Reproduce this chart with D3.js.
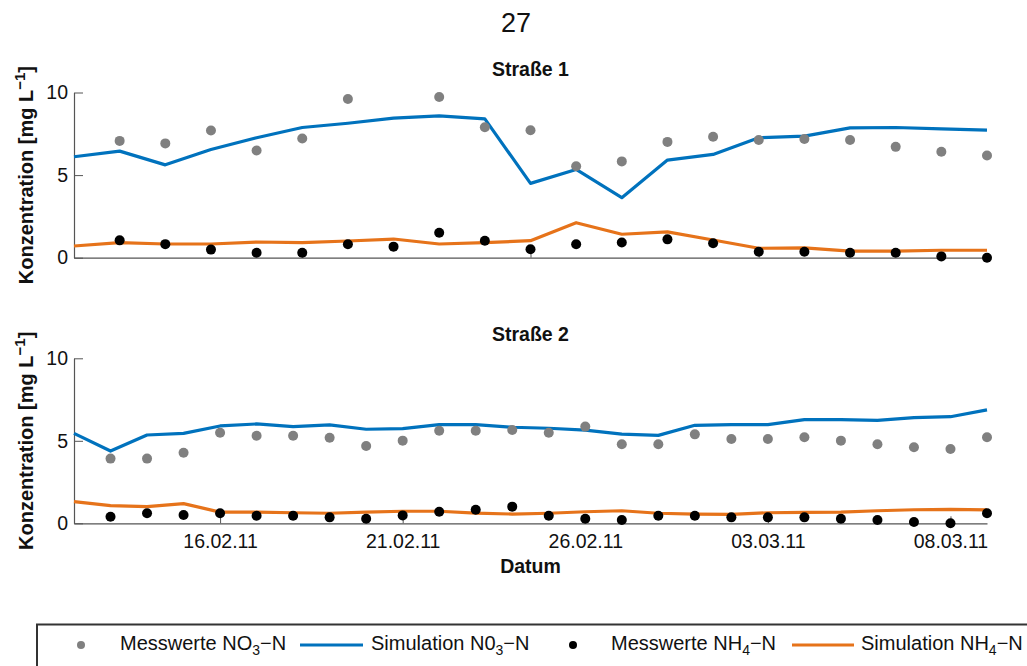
<!DOCTYPE html>
<html>
<head>
<meta charset="utf-8">
<script src="https://cdn.jsdelivr.net/npm/d3@7"></script>
<style>
  body { margin: 0; background: #fff; }
  text { font-family: "Liberation Sans", Arial, sans-serif; fill: #111; }
</style>
</head>
<body>
<svg id="chart" width="1027" height="666"></svg>
<script>
// --- Straße 1 (Tage ab Start, ohne Beschriftung) ---
const tage1 = [0, 1, 2, 3, 4, 5, 6, 7, 8, 9, 10, 11, 12, 13, 14, 15, 16, 17, 18, 19, 20];
const simNO3_1 = [6.11, 6.45, 5.62, 6.55, 7.26, 7.88, 8.14, 8.45, 8.59, 8.40, 4.50, 5.34, 3.63, 5.91, 6.25, 7.26, 7.36, 7.86, 7.88, 7.80, 7.72];
const simNH4_1 = [0.71, 0.91, 0.83, 0.83, 0.95, 0.91, 1.01, 1.13, 0.83, 0.91, 1.03, 2.12, 1.42, 1.56, 1.07, 0.57, 0.60, 0.40, 0.40, 0.45, 0.45];
const messTage1 = [1, 2, 3, 4, 5, 6, 7, 8, 9, 10, 11, 12, 13, 14, 15, 16, 17, 18, 19, 20];
const messNO3_1 = [7.07, 6.92, 7.70, 6.49, 7.22, 9.61, null, 9.73, 7.90, 7.72, 5.54, 5.83, 7.01, 7.32, 7.12, 7.18, 7.12, 6.71, 6.41, 6.19];
const messNH4_1 = [1.05, 0.82, 0.49, 0.30, 0.30, 0.81, 0.67, 1.51, 1.03, 0.51, 0.81, 0.92, 1.11, 0.87, 0.36, 0.36, 0.30, 0.30, 0.08, 0.00];
const ticks1 = [5, 10, 15];

// --- Straße 2 (Datum) ---
const datum2 = ['12.02.11', '13.02.11', '14.02.11', '15.02.11', '16.02.11', '17.02.11', '18.02.11', '19.02.11', '20.02.11',
  '21.02.11', '22.02.11', '23.02.11', '24.02.11', '25.02.11', '26.02.11', '27.02.11', '28.02.11', '01.03.11', '02.03.11',
  '03.03.11', '04.03.11', '05.03.11', '06.03.11', '07.03.11', '08.03.11', '09.03.11'];
const simNO3_2 = [5.45, 4.38, 5.35, 5.45, 5.90, 6.02, 5.86, 5.96, 5.70, 5.74, 5.98, 5.98, 5.82, 5.76, 5.65, 5.41, 5.33, 5.94, 5.98, 5.98, 6.28, 6.28, 6.24, 6.40, 6.46, 6.87];
const simNH4_2 = [1.31, 1.07, 1.01, 1.19, 0.68, 0.68, 0.64, 0.61, 0.68, 0.73, 0.73, 0.62, 0.56, 0.61, 0.70, 0.76, 0.61, 0.56, 0.54, 0.64, 0.66, 0.68, 0.76, 0.82, 0.84, 0.81];
// Messwerte ab 13.02.11
const messNO3_2 = [3.92, 3.92, 4.28, 5.49, 5.31, 5.31, 5.19, 4.68, 5.01, 5.61, 5.61, 5.65, 5.49, 5.86, 4.79, 4.79, 5.39, 5.11, 5.11, 5.21, 5.01, 4.79, 4.61, 4.50, 5.21];
const messNH4_2 = [0.40, 0.61, 0.50, 0.61, 0.46, 0.46, 0.36, 0.28, 0.48, 0.70, 0.82, 1.01, 0.46, 0.28, 0.20, 0.46, 0.46, 0.36, 0.36, 0.36, 0.28, 0.20, 0.08, 0.00, 0.61];
const tickDaten = ['16.02.11', '21.02.11', '26.02.11', '03.03.11', '08.03.11'];

const yTicks = [0, 5, 10];

const farbe = { messNO3: '#808080', simNO3: '#0072BD', messNH4: '#000000', simNH4: '#E6731A' };

const parse = d3.utcParse('%d.%m.%y');
const svg = d3.select('#chart');

const xLeft = 74, xRight = 987;

function panel(cfg) {
  const y = d3.scaleLinear().domain([0, 10]).range([cfg.bottom, cfg.top]);
  const g = svg.append('g');

  // y-Achse
  const yAxis = g.append('g')
    .attr('transform', `translate(${xLeft},0)`)
    .call(d3.axisLeft(y).tickValues(yTicks).tickSizeInner(-9).tickSizeOuter(0).tickPadding(6));
  yAxis.select('.domain').attr('stroke', '#555').attr('stroke-width', 1.2);
  yAxis.selectAll('.tick line').attr('stroke', '#555');
  yAxis.selectAll('text').attr('font-size', 19.5).attr('fill', '#111')
    .style('font-family', '"Liberation Sans", Arial, sans-serif');

  // x-Achse
  const xAxis = g.append('g')
    .attr('transform', `translate(0,${cfg.bottom})`)
    .call(d3.axisBottom(cfg.x).tickValues(cfg.tickValues).tickFormat(cfg.tickFormat)
      .tickSizeInner(-7).tickSizeOuter(0).tickPadding(11));
  xAxis.select('.domain').attr('stroke', '#555').attr('stroke-width', 1.2);
  xAxis.selectAll('.tick line').attr('stroke', '#555');
  xAxis.selectAll('text').attr('font-size', 19.5).attr('fill', '#111')
    .style('font-family', '"Liberation Sans", Arial, sans-serif');

  const line = (xs, ys) => d3.line()
    .x((d, i) => cfg.x(xs[i]))
    .y(d => y(d))(ys);

  g.append('path').attr('d', line(cfg.simX, cfg.simNO3))
    .attr('fill', 'none').attr('stroke', farbe.simNO3).attr('stroke-width', 3.2).attr('stroke-linejoin', 'round');
  g.append('path').attr('d', line(cfg.simX, cfg.simNH4))
    .attr('fill', 'none').attr('stroke', farbe.simNH4).attr('stroke-width', 3.2).attr('stroke-linejoin', 'round');

  g.append('g').selectAll('circle')
    .data(cfg.messNO3.map((v, i) => [cfg.messX[i], v]).filter(d => d[1] != null))
    .join('circle')
    .attr('cx', d => cfg.x(d[0])).attr('cy', d => y(d[1])).attr('r', 5)
    .attr('fill', farbe.messNO3);
  g.append('g').selectAll('circle')
    .data(cfg.messNH4.map((v, i) => [cfg.messX[i], v]))
    .join('circle')
    .attr('cx', d => cfg.x(d[0])).attr('cy', d => y(d[1])).attr('r', 5)
    .attr('fill', farbe.messNH4);

  g.append('text').attr('x', (xLeft + xRight) / 2).attr('y', cfg.titleY)
    .attr('text-anchor', 'middle').attr('font-weight', 'bold').attr('font-size', 19.5)
    .text(cfg.title);

  const lab = g.append('text')
    .attr('transform', `translate(33,${(cfg.top + cfg.bottom) / 2}) rotate(-90)`)
    .attr('text-anchor', 'middle').attr('font-weight', 'bold').attr('font-size', 20);
  lab.append('tspan').text('Konzentration [mg L');
  lab.append('tspan').attr('dy', -8).attr('font-size', 15).text('−1');
  lab.append('tspan').attr('dy', 8).text(']');
}

const x1 = d3.scaleLinear().domain([0, 20]).range([xLeft, xRight]);
panel({
  x: x1, top: 92.5, bottom: 257.7, titleY: 76, title: 'Straße 1',
  tickValues: ticks1, tickFormat: () => '',
  simX: tage1, simNO3: simNO3_1, simNH4: simNH4_1,
  messX: messTage1, messNO3: messNO3_1, messNH4: messNH4_1
});

const daten2 = datum2.map(parse);
const x2 = d3.scaleUtc().domain([daten2[0], daten2[daten2.length - 1]]).range([xLeft, xRight]);
panel({
  x: x2, top: 358.3, bottom: 523.3, titleY: 341, title: 'Straße 2',
  tickValues: tickDaten.map(parse), tickFormat: d3.utcFormat('%d.%m.%y'),
  simX: daten2, simNO3: simNO3_2, simNH4: simNH4_2,
  messX: daten2.slice(1), messNO3: messNO3_2, messNH4: messNH4_2
});

// Seitenzahl und x-Beschriftung
svg.append('text').attr('x', 516).attr('y', 31.5).attr('text-anchor', 'middle')
  .attr('font-size', 27).text('27');
svg.append('text').attr('x', (xLeft + xRight) / 2).attr('y', 573).attr('text-anchor', 'middle')
  .attr('font-weight', 'bold').attr('font-size', 19.5).text('Datum');

// Legende
const leg = svg.append('g');
leg.append('rect').attr('x', 37).attr('y', 624.5).attr('width', 1100).attr('height', 100)
  .attr('fill', '#fff').attr('stroke', '#333').attr('stroke-width', 2);

function legText(x, teile) {
  const t = leg.append('text').attr('x', x).attr('y', 650).attr('font-size', 20);
  t.append('tspan').text(teile[0]);
  t.append('tspan').attr('dy', 5).attr('font-size', 14).text(teile[1]);
  t.append('tspan').attr('dy', -5).text(teile[2]);
}
leg.append('circle').attr('cx', 81).attr('cy', 645).attr('r', 4).attr('fill', farbe.messNO3);
legText(120, ['Messwerte NO', '3', '−N']);
leg.append('line').attr('x1', 300).attr('x2', 363).attr('y1', 645).attr('y2', 645)
  .attr('stroke', farbe.simNO3).attr('stroke-width', 3);
legText(371, ['Simulation N0', '3', '−N']);
leg.append('circle').attr('cx', 573).attr('cy', 645).attr('r', 4).attr('fill', farbe.messNH4);
legText(611, ['Messwerte NH', '4', '−N']);
leg.append('line').attr('x1', 792).attr('x2', 854).attr('y1', 645).attr('y2', 645)
  .attr('stroke', farbe.simNH4).attr('stroke-width', 3);
legText(861, ['Simulation NH', '4', '−N']);
</script>
</body>
</html>
